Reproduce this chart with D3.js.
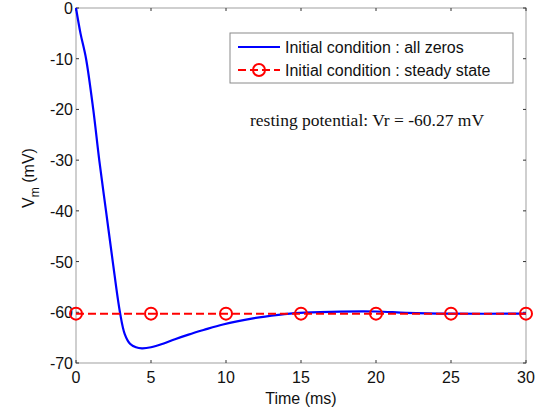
<!DOCTYPE html>
<html><head><meta charset="utf-8">
<script src="https://cdn.jsdelivr.net/npm/d3@7"></script>
<style>body{margin:0;background:#fff}svg{display:block}</style>
</head><body>
<script>
const timeAllZeros = [0,0.3,0.67,1.15,1.55,2.0,2.45,2.93,3.25,3.6,4.0,4.4,5.0,5.8,6.6,7.5,8.5,9.8,11.8,13.5,14.9,17,20,22,25,30];
const vmAllZeros   = [0,-5,-10,-20,-30,-40,-50,-60,-64.3,-66.2,-66.9,-67.1,-66.9,-66.2,-65.3,-64.4,-63.5,-62.4,-61.2,-60.5,-60.1,-59.9,-59.85,-60.1,-60.27,-60.27];
const timeSteady = [0,5,10,15,20,25,30];
const vmSteady   = [-60.27,-60.27,-60.27,-60.27,-60.27,-60.27,-60.27];
const xTicks = [0,5,10,15,20,25,30];
const yTicks = [0,-10,-20,-30,-40,-50,-60,-70];
const legendLabels = ["Initial condition : all zeros","Initial condition : steady state"];
const annotation = "resting potential: Vr = -60.27 mV";

const W=552,H=411, L=76,R=526,T=8,B=363;
const svg=d3.select("body").append("svg").attr("width",W).attr("height",H);
const x=d3.scaleLinear().domain([0,30]).range([L,R]);
const y=d3.scaleLinear().domain([-70,0]).range([B,T]);
const font="Liberation Sans, Arial, Helvetica, sans-serif";

svg.append("rect").attr("x",L).attr("y",T).attr("width",R-L).attr("height",B-T)
  .attr("fill","#fff").attr("stroke","#b0b0b0").attr("stroke-width",1.2);

const tk=svg.append("g").attr("stroke","#333").attr("stroke-width",1);
xTicks.forEach(v=>{
  tk.append("line").attr("x1",x(v)).attr("x2",x(v)).attr("y1",B).attr("y2",B-3);
  tk.append("line").attr("x1",x(v)).attr("x2",x(v)).attr("y1",T).attr("y2",T+3);
});
yTicks.forEach(v=>{
  tk.append("line").attr("x1",L).attr("x2",L+3).attr("y1",y(v)).attr("y2",y(v));
  tk.append("line").attr("x1",R).attr("x2",R-3).attr("y1",y(v)).attr("y2",y(v));
});

svg.append("g").selectAll("text").data(xTicks).join("text")
  .attr("x",d=>x(d)).attr("y",B+20).attr("text-anchor","middle")
  .attr("font-family",font).attr("font-size",16).attr("fill","#111").text(d=>d);
svg.append("g").selectAll("text").data(yTicks).join("text")
  .attr("x",L-3).attr("y",d=>y(d)+6).attr("text-anchor","end")
  .attr("font-family",font).attr("font-size",16).attr("fill","#111").text(d=>d);

svg.append("text").attr("x",(L+R)/2).attr("y",404).attr("text-anchor","middle")
  .attr("font-family",font).attr("font-size",16).attr("fill","#111").text("Time (ms)");
const yl=svg.append("text").attr("transform","translate(34,178) rotate(-90)").attr("text-anchor","middle")
  .attr("font-family",font).attr("font-size",16).attr("fill","#111");
yl.append("tspan").text("V");
yl.append("tspan").attr("dy",5).attr("font-size",12).text("m");
yl.append("tspan").attr("dy",-5).text(" (mV)");

const blueData=timeAllZeros.map((t,i)=>[t,vmAllZeros[i]]);
svg.append("path").datum(blueData)
  .attr("d",d3.line().x(d=>x(d[0])).y(d=>y(d[1])).curve(d3.curveCatmullRom.alpha(0.5)))
  .attr("fill","none").attr("stroke","#0000ff").attr("stroke-width",2.2);

const redData=timeSteady.map((t,i)=>[t,vmSteady[i]]);
svg.append("path").datum(redData)
  .attr("d",d3.line().x(d=>x(d[0])).y(d=>y(d[1])))
  .attr("fill","none").attr("stroke","#ff0000").attr("stroke-width",2).attr("stroke-dasharray","8,4");
svg.append("g").selectAll("circle").data(redData).join("circle")
  .attr("cx",d=>x(d[0])).attr("cy",d=>y(d[1])).attr("r",6)
  .attr("fill","none").attr("stroke","#ff0000").attr("stroke-width",2);

const lg=svg.append("g");
lg.append("rect").attr("x",230).attr("y",33).attr("width",283).attr("height",50)
  .attr("fill","#fff").attr("stroke","#8a8a8a").attr("stroke-width",1);
lg.append("line").attr("x1",238).attr("x2",280).attr("y1",47).attr("y2",47)
  .attr("stroke","#0000ff").attr("stroke-width",2);
lg.append("line").attr("x1",238).attr("x2",280).attr("y1",70).attr("y2",70)
  .attr("stroke","#ff0000").attr("stroke-width",2).attr("stroke-dasharray","8,4");
lg.append("circle").attr("cx",259).attr("cy",70).attr("r",6)
  .attr("fill","none").attr("stroke","#ff0000").attr("stroke-width",2);
legendLabels.forEach((s,i)=>{
  lg.append("text").attr("x",285).attr("y",53+i*23).attr("font-family",font)
    .attr("font-size",16).attr("fill","#111").text(s);
});

svg.append("text").attr("x",250).attr("y",126).attr("font-family","Liberation Serif, Times New Roman, serif")
  .attr("font-size",17.5).attr("fill","#111").text(annotation);
</script>
</body></html>
